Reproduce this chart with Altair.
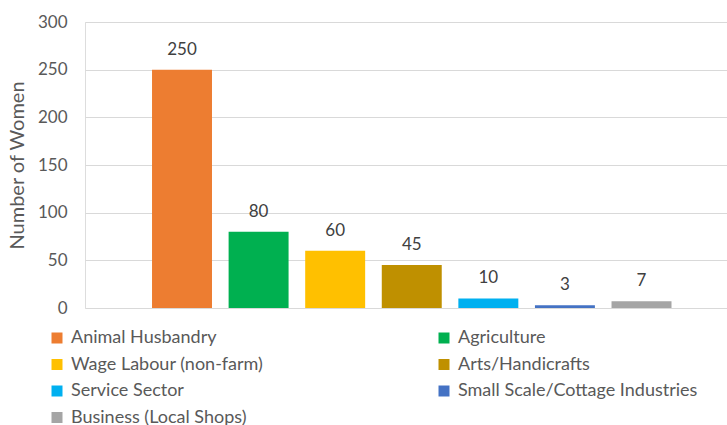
import altair as alt
import pandas as pd

categories = ["Animal Husbandry", "Agriculture", "Wage Labour (non-farm)", "Arts/Handicrafts",
              "Service Sector", "Small Scale/Cottage Industries", "Business (Local Shops)"]
values = [250, 80, 60, 45, 10, 3, 7]
colors = ["#ED7D31", "#00B050", "#FFC000", "#BF9000", "#00B0F0", "#4472C4", "#A5A5A5"]
y_ticks = [0, 50, 100, 150, 200, 250, 300]

df = pd.DataFrame({"Category": categories, "Value": values})

FONT = "Lato"

x = alt.X("Category:N", sort=categories, axis=None,
          scale=alt.Scale(paddingInner=0.217, paddingOuter=0.8, align=0.547))

bars = alt.Chart(df).mark_bar().encode(
    x=x,
    y=alt.Y("Value:Q", scale=alt.Scale(domain=[0, 300], nice=False),
            axis=alt.Axis(values=y_ticks, title="Number of Women", domain=False, ticks=False,
                          gridColor="#D9D9D9", gridWidth=1, labelFont=FONT, labelFontSize=17,
                          labelColor="#595959", labelPadding=18, titleFont=FONT, titleFontSize=20,
                          titleFontWeight="normal", titleColor="#595959", titlePadding=10)),
    color=alt.Color("Category:N", sort=categories,
                    scale=alt.Scale(domain=categories, range=colors),
                    legend=alt.Legend(title=None, orient="none", legendX=-37, legendY=307,
                                      columns=2, direction="horizontal",
                                      symbolType="square", symbolSize=121,
                                      symbolStrokeWidth=0, labelFont=FONT, labelFontSize=18,
                                      labelOffset=5,
                                      labelColor="#595959", rowPadding=8.5, columnPadding=171,
                                      labelLimit=400, gridAlign="each")),
)

labels = alt.Chart(df).mark_text(baseline="bottom", dy=-11, font=FONT, fontSize=17,
                                 color="#404040").encode(
    x=x,
    y=alt.Y("Value:Q"),
    text=alt.Text("Value:Q"),
)

chart = alt.layer(bars, labels).properties(
    width=642, height=286,
    padding={"left": 85, "top": 22, "right": 0, "bottom": 117},
    autosize=alt.AutoSizeParams(type="none"),
).configure_view(stroke=None).configure(background="white")

chart.save("out.html", embed_options={"renderer": "svg", "actions": False})
